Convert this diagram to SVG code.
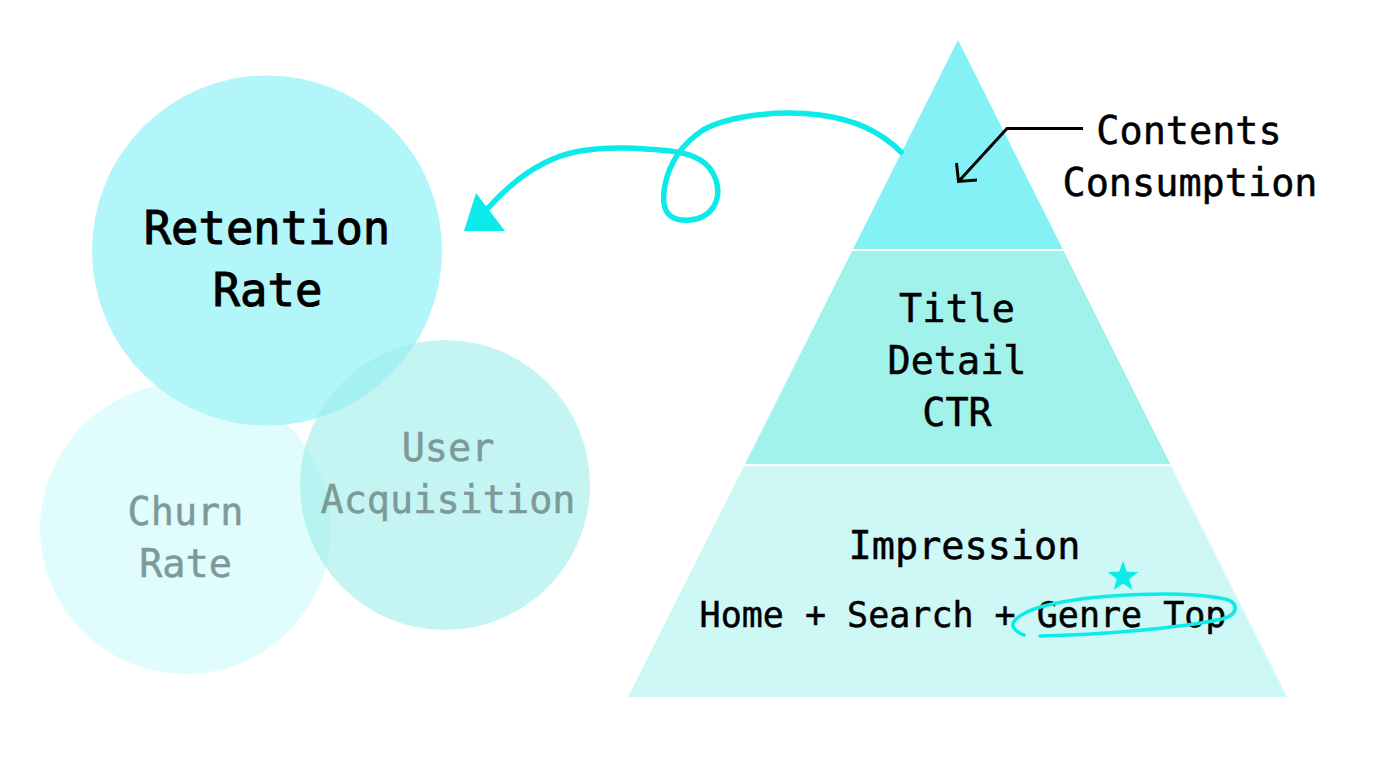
<svg xmlns="http://www.w3.org/2000/svg" width="1396" height="766" viewBox="0 0 1396 766">
  <style>
    .t { font-family: "DejaVu Sans Mono", "Liberation Mono", monospace; text-anchor: middle; }
    .dark { fill: #000000; stroke: #000000; stroke-width: 0.5px; font-size: 38.5px; }
    .big { fill: #000000; stroke: #000000; stroke-width: 1px; font-size: 45.5px; }
    .gray { fill: #7d9a99; stroke: #7d9a99; stroke-width: 0.5px; font-size: 38.5px; }
    .small { fill: #000000; stroke: #000000; stroke-width: 0.5px; font-size: 35px; }
    .cyan { fill: none; stroke: #0deaea; stroke-linecap: round; stroke-linejoin: round; }
  </style>
  <rect width="1396" height="766" fill="#ffffff"/>

  <g id="churn-rate">
    <circle cx="185.5" cy="528.5" r="145.5" fill="#e0fcfc"/>
    <text class="t gray" x="185.5" y="525">Churn</text>
    <text class="t gray" x="185.5" y="577">Rate</text>
  </g>

  <g id="retention-rate">
    <circle cx="267" cy="250.5" r="175" fill="#b3f6f9"/>
    <text class="t big" x="267" y="243.5">Retention</text>
    <text class="t big" x="267.5" y="305.5">Rate</text>
  </g>

  <g id="user-acquisition">
    <circle cx="445" cy="485" r="145" fill="rgb(155,238,233)" fill-opacity="0.59"/>
    <text class="t gray" x="448" y="461">User</text>
    <text class="t gray" x="448" y="513">Acquisition</text>
  </g>

  <g id="pyramid-top">
    <polygon points="958,40 1062.7,249 853,249" fill="#84f1f7"/>
  </g>

  <g id="pyramid-middle">
    <polygon points="852,251 1063.7,251 1170.3,464 745,464" fill="#a2f2ec"/>
    <text class="t dark" x="957" y="322">Title</text>
    <text class="t dark" x="957" y="374">Detail</text>
    <text class="t dark" x="957" y="426">CTR</text>
  </g>

  <g id="pyramid-bottom">
    <polygon points="744,466 1171.3,466 1287,697 628,697" fill="#cdf8f6"/>
    <text class="t dark" x="964.5" y="559">Impression</text>
    <text class="t small" x="963" y="627">Home + Search + Genre Top</text>
  </g>

  <g id="contents-consumption-label">
    <text class="t dark" x="1189" y="144">Contents</text>
    <text class="t dark" x="1190" y="196">Consumption</text>
  </g>

  <g id="connectors">
    <path class="cyan" stroke-width="5.5" d="M 901 152 C 885 136, 860 120, 820 115 C 780 110, 730 115, 703 130 C 685 142, 670 160, 665 185 C 660 210, 668 222, 690 220 C 712 218, 722 200, 716 180 C 710 162, 695 154, 670 151 C 640 148, 610 146, 580 151 C 545 157, 515 178, 488 208"/>
    <polygon points="476,193 464,231 505,231" fill="#0deaea"/>
    <path d="M 1083 128.5 L 1007 128.5 L 958.5 181.5 M 956.5 163 L 958.5 181.5 L 977 180" fill="none" stroke="#000000" stroke-width="3" stroke-linecap="butt" stroke-linejoin="miter"/>
    <path class="cyan" stroke-width="3.5" d="M 1040 636 C 1100 635, 1180 628, 1222 619 C 1240 614, 1240 601, 1220 598 C 1180 591, 1100 594, 1057 603 C 1025 609, 1008 621, 1014 628 C 1017 632, 1020 634, 1024 635"/>
    <polygon points="1123,561 1126.8,571.7 1138.2,572.1 1129.2,579 1132.4,589.9 1123,583.5 1113.6,589.9 1116.8,579 1107.8,572.1 1119.2,571.7" fill="#0deaea"/>
  </g>
</svg>
